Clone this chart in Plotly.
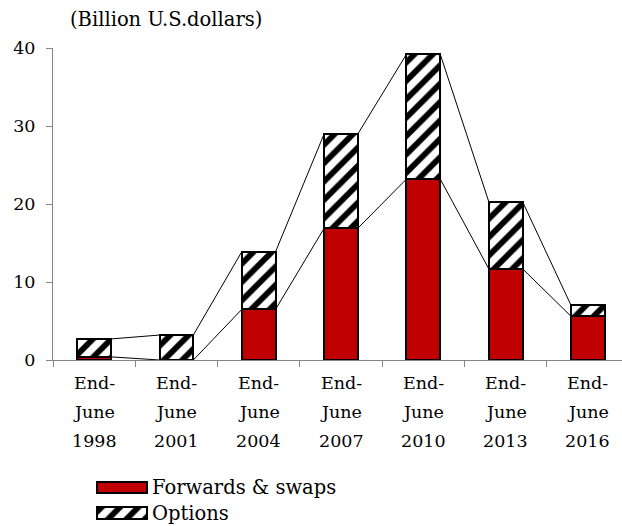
import plotly.graph_objects as go

# Semiannual survey, notional outstanding, billion U.S. dollars
categories = ["End-<br>June<br>1998", "End-<br>June<br>2001", "End-<br>June<br>2004",
              "End-<br>June<br>2007", "End-<br>June<br>2010", "End-<br>June<br>2013",
              "End-<br>June<br>2016"]
forwards_swaps = [0.4, 0.0, 6.5, 16.9, 23.2, 11.7, 5.6]
options = [2.3, 3.2, 7.4, 12.1, 16.0, 8.6, 1.4]
y_ticks = [0, 10, 20, 30, 40]
legend_names = ["Forwards & swaps", "Options"]
unit_label = "(Billion U.S.dollars)"

W, H = 622, 526
L, T = 53, 48
PLOT_BOTTOM = 360          # pixel row of the x axis
FONT = "DejaVu Serif"
RED = "#C00000"
AXIS_GREY = "#868686"
BAR_W = 0.41

def py(px):
    """Pixel row -> paper y (plot area spans T..H because margin b=0)."""
    return (H - px) / (H - T)

def pxx(px):
    """Pixel column -> paper x."""
    return (px - L) / (W - L)

main_y_domain = [py(PLOT_BOTTOM), 1.0]
xs = list(range(len(categories)))

hatch = dict(shape="/", fgcolor="black", bgcolor="white", size=13, solidity=0.45,
             fgopacity=1)
outline = dict(color="black", width=2)

fig = go.Figure()
fig.add_trace(go.Bar(x=xs, y=forwards_swaps, width=BAR_W, name=legend_names[0],
                     marker=dict(color=RED, line=outline), showlegend=False))
fig.add_trace(go.Bar(x=xs, y=options, width=BAR_W, name=legend_names[1],
                     marker=dict(color="white", pattern=hatch, line=outline),
                     showlegend=False))

# Series lines joining the tops of neighbouring bars
totals = [f + o for f, o in zip(forwards_swaps, options)]
for level in (forwards_swaps, totals):
    lx, ly = [], []
    for i in range(len(xs) - 1):
        lx += [xs[i] + BAR_W / 2, xs[i + 1] - BAR_W / 2, None]
        ly += [level[i], level[i + 1], None]
    fig.add_trace(go.Scatter(x=lx, y=ly, mode="lines", showlegend=False,
                             line=dict(color="black", width=1), hoverinfo="skip"))

# Legend swatches drawn as horizontal bars on a small hidden axis pair
fig.add_trace(go.Bar(x=[1], y=[0], orientation="h", width=0.45, xaxis="x2", yaxis="y2",
                     marker=dict(color=RED, line=outline), showlegend=False))
fig.add_trace(go.Bar(x=[1], y=[1], orientation="h", width=0.45, xaxis="x2", yaxis="y2",
                     marker=dict(color="white", pattern=hatch, line=outline),
                     showlegend=False))

annotations = []
# Category labels, three lines each
for i, cat in enumerate(categories):
    for j, line in enumerate(cat.split("<br>")):
        annotations.append(dict(x=xs[i], y=py(383 + 29 * j), xref="x", yref="paper",
                                text=line, showarrow=False, xanchor="center",
                                yanchor="middle", font=dict(family=FONT, size=17.5,
                                                             color="black")))
annotations.append(dict(x=pxx(68), y=py(20), xref="paper", yref="paper", text=unit_label,
                        showarrow=False, xanchor="left", yanchor="middle",
                        font=dict(family=FONT, size=19.5, color="black")))
for k, name in enumerate(legend_names):
    annotations.append(dict(x=pxx(150), y=k, xref="paper", yref="y2", text=name,
                            showarrow=False, xanchor="left", yanchor="middle",
                            font=dict(family=FONT, size=19.5, color="black")))

leg_top, leg_bot = 476, 526
first_row, per_unit = 487.5, 25.5
fig.update_layout(
    width=W, height=H,
    margin=dict(l=L, r=0, t=T, b=0, autoexpand=False),
    paper_bgcolor="white", plot_bgcolor="white",
    barmode="stack", bargap=0,
    font=dict(family=FONT, size=17, color="black"),
    xaxis=dict(range=[-0.5, -0.5 + (W - L) / 82.3], domain=[0, 1],
               tickvals=[x - 0.5 for x in xs], showticklabels=False,
               ticks="outside", ticklen=6, tickcolor=AXIS_GREY,
               showline=True, linecolor=AXIS_GREY, linewidth=1,
               showgrid=False, zeroline=False, fixedrange=True),
    yaxis=dict(range=[0, 40], domain=main_y_domain, tickvals=y_ticks,
               ticks="outside", ticklen=6, tickcolor=AXIS_GREY,
               ticklabelstandoff=7,
               showline=True, linecolor=AXIS_GREY, linewidth=1,
               showgrid=False, zeroline=False,
               tickfont=dict(family=FONT, size=17.5, color="black")),
    xaxis2=dict(domain=[pxx(96), pxx(148)], range=[-0.02, 1.02], anchor="y2",
                visible=False, fixedrange=True),
    yaxis2=dict(domain=[py(leg_bot), py(leg_top)], anchor="x2", visible=False,
                range=[(leg_bot - first_row) / per_unit, (leg_top - first_row) / per_unit]),
    annotations=annotations,
)

fig.write_html("out.html")
